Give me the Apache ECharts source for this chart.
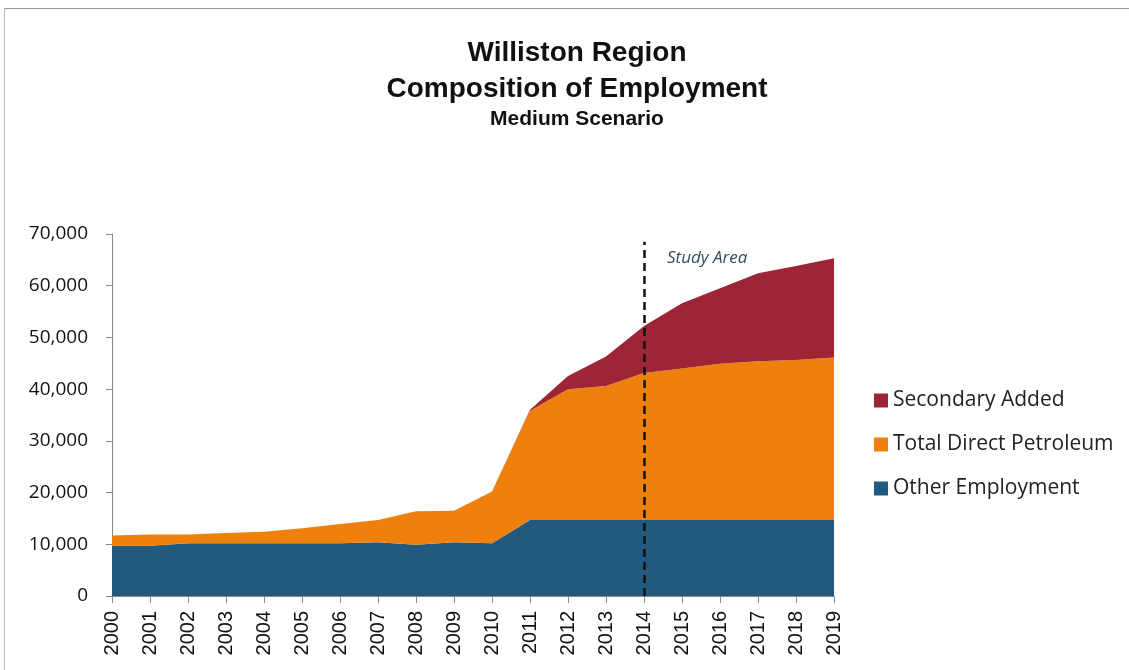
<!DOCTYPE html>
<html>
<head>
<meta charset="utf-8">
<script src="https://cdn.jsdelivr.net/npm/echarts@6/dist/echarts.min.js"></script>
<style>
html,body{margin:0;padding:0;background:#fff;}
#frame{position:absolute;left:4px;top:8px;width:1125px;height:662px;border-top:1px solid #999;border-left:1px solid #bbb;box-sizing:border-box;}
#chart{width:1129px;height:670px;}
</style>
</head>
<body>
<div id="frame"></div>
<div id="chart"></div>
<script>
var years = ['2000','2001','2002','2003','2004','2005','2006','2007','2008','2009','2010','2011','2012','2013','2014','2015','2016','2017','2018','2019'];
var otherEmployment = [9700,9700,10200,10200,10200,10200,10200,10400,9900,10400,10200,14700,14700,14700,14700,14700,14700,14700,14700,14700];
var directPetroleum = [2000,2200,1700,2000,2200,2900,3700,4300,6500,6100,10000,21100,25300,25900,28400,29300,30200,30700,30950,31400];
var secondaryAdded = [0,0,0,0,0,0,0,0,0,0,0,200,2550,5700,9100,12600,14600,17000,18150,19200];
var yTicks = [0,10000,20000,30000,40000,50000,60000,70000];
var studyYear = '2014';

var chart = echarts.init(document.getElementById('chart'));
function areaSeries(name, data, color, extra) {
  var s = {
    name: name, type: 'line', stack: 'total', data: data,
    showSymbol: false, symbol: 'none', smooth: false,
    lineStyle: {width: 0}, itemStyle: {color: color},
    areaStyle: {color: color, opacity: 1}, z: 2
  };
  if (extra) Object.assign(s, extra);
  return s;
}
chart.setOption({
  animation: false,
  backgroundColor: 'transparent',
  title: [
    {text: 'Williston Region', left: 572, textAlign: 'center', top: 34,
     textStyle: {fontFamily: 'Liberation Sans', fontWeight: 'bold', fontSize: 28, color: '#111'}},
    {text: 'Composition of Employment', left: 572, textAlign: 'center', top: 70,
     textStyle: {fontFamily: 'Liberation Sans', fontWeight: 'bold', fontSize: 28, color: '#111'}},
    {text: 'Medium Scenario', left: 572, textAlign: 'center', top: 104,
     textStyle: {fontFamily: 'Liberation Sans', fontWeight: 'bold', fontSize: 21, color: '#111'}}
  ],
  legend: {
    orient: 'vertical', left: 869, top: 385, itemGap: 23,
    itemWidth: 14, itemHeight: 14, icon: 'rect',
    data: ['Secondary Added', 'Total Direct Petroleum', 'Other Employment'],
    textStyle: {fontFamily: 'Open Sans', fontSize: 21, color: '#222', padding: [0,0,0,0]}
  },
  grid: {left: 112, right: 295, top: 234, bottom: 74},
  xAxis: {
    type: 'category', data: years, boundaryGap: false,
    axisLine: {lineStyle: {color: '#888'}},
    axisTick: {show: true, alignWithLabel: true, length: 7, lineStyle: {color: '#888'}},
    axisLabel: {rotate: 90, fontFamily: 'Liberation Sans', fontSize: 20, color: '#111', margin: 15, interval: 0}
  },
  yAxis: {
    type: 'value', min: 0, max: 70000, interval: 10000,
    splitLine: {show: false},
    axisLine: {show: true, lineStyle: {color: '#888'}},
    axisTick: {show: true, length: 6, lineStyle: {color: '#888'}},
    axisLabel: {fontFamily: 'Open Sans', fontSize: 19, color: '#111', margin: 24,
      formatter: function (v) { return v.toLocaleString('en-US'); }}
  },
  series: [
    areaSeries('Other Employment', otherEmployment, '#215a7e'),
    areaSeries('Total Direct Petroleum', directPetroleum, '#f0800c'),
    areaSeries('Secondary Added', secondaryAdded, '#9d2536', {
      markLine: {
        silent: true, symbol: 'none', z: 10,
        label: {show: false},
        lineStyle: {type: [8, 5], color: '#111', width: 2.5},
        data: [[{coord: [studyYear, 0]}, {coord: [studyYear, 68500]}]]
      }
    })
  ],
  graphic: [
    {type: 'text', left: 667, top: 250,
     style: {text: 'Study Area', font: 'italic 17px "Open Sans"', fill: '#2f4b5c'}}
  ]
});
</script>
</body>
</html>
